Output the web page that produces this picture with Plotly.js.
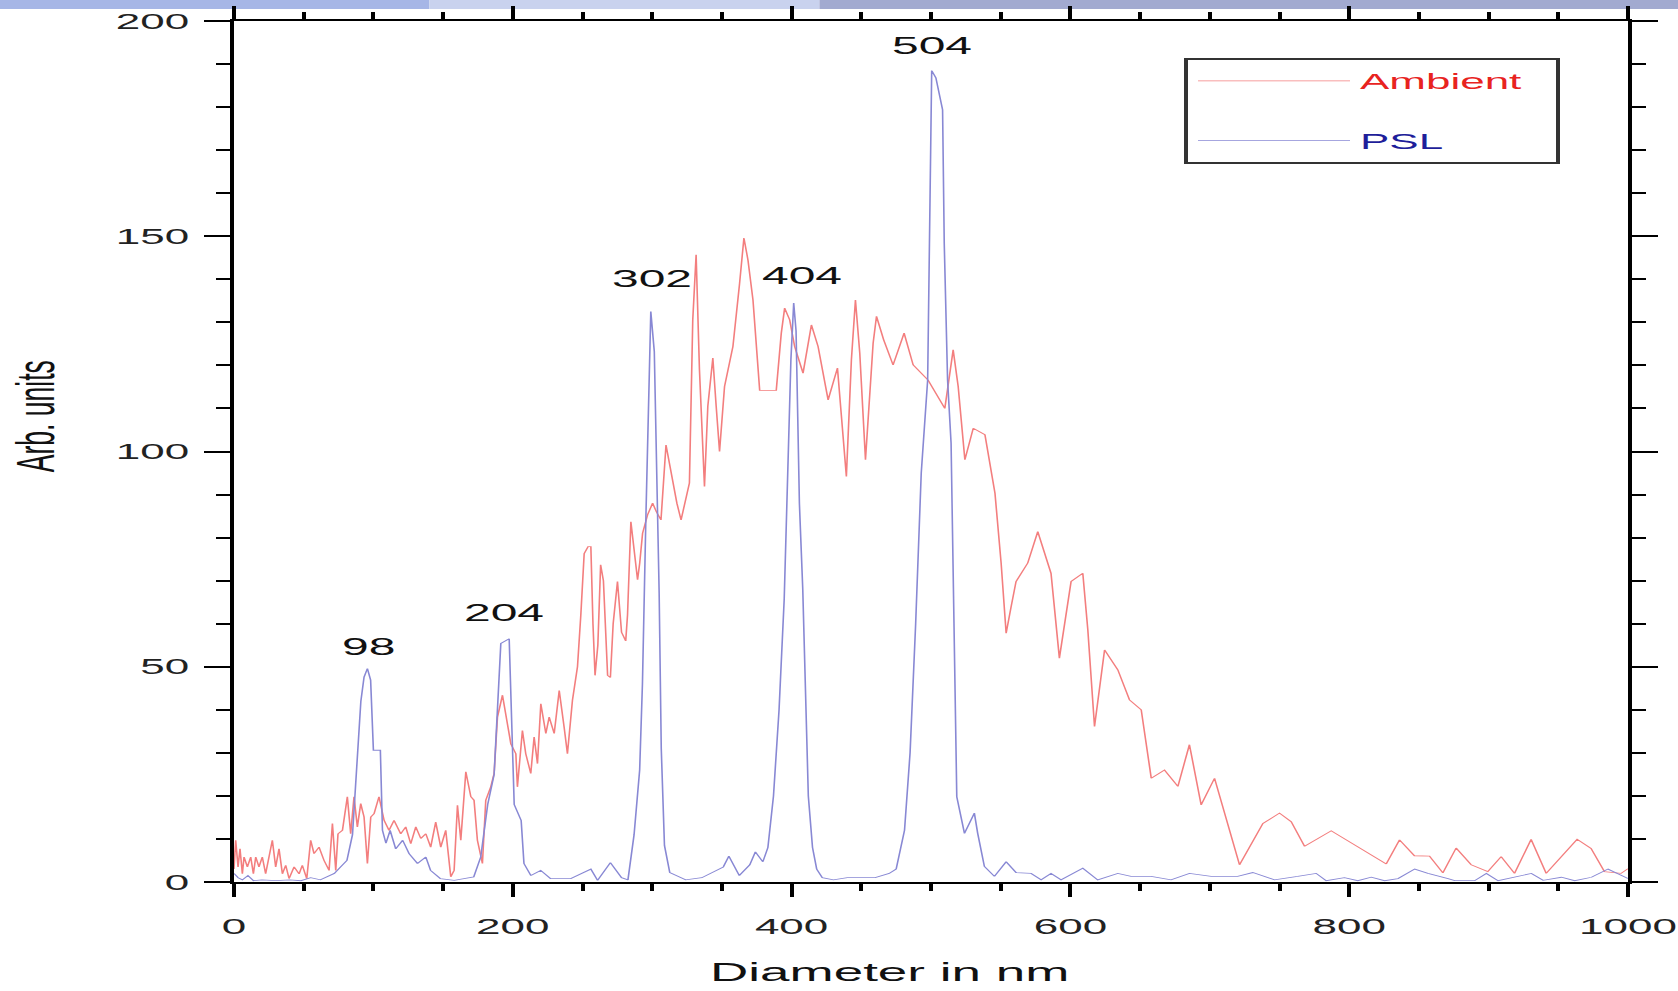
<!DOCTYPE html>
<html>
<head>
<meta charset="utf-8">
<script src="https://cdn.plot.ly/plotly-3.0.1.min.js"></script>
<style>
html, body { margin: 0; padding: 0; background: #ffffff; overflow: hidden; }
#wrap { width: 1678px; height: 991px; overflow: hidden; }
#chart { width: 839px; height: 991px; transform: scaleX(2); transform-origin: 0 0; }
</style>
</head>
<body>
<div id="wrap"><div id="chart"></div></div>
<script>
// ---- data ----
const ambientDiameter = [0,1.2,2.9,4.3,6,7.2,9.6,12,13.9,15.6,17.9,20.3,22.7,25.1,27.5,29.9,32.3,34.7,37.1,39.5,43.1,46.7,49,52.2,55,57.4,61,64.6,68.2,70.6,73,74.6,77.8,81.3,83.7,86.1,88.5,90.9,93.3,95.7,98.1,100.5,104,107.7,111.2,114.8,119.6,123.2,126.8,130.4,134,137.6,141.1,144.7,148.3,151.9,155.5,157.9,160.3,162.7,166.3,169.9,172.2,174.6,178.2,180.6,184.2,186.6,189,192.6,195,198.6,202.2,203.3,206.9,209.3,212.9,215.3,217.7,220.1,223.7,226.1,229.7,233.3,236.8,239.2,242.8,246.4,248.8,251.2,254,256,257.5,259,261,263,265,266.7,268,270,272,275.1,278,281,282.3,284.7,287,289.5,291,293.1,296.7,300.3,303,306.3,309.9,314.7,317.7,320.7,326.7,329.1,331.5,333.9,336.3,337.5,339.9,343.5,345.9,348.3,351.9,357.9,362.7,365.8,368.7,372.3,377.1,389,392.6,395,398.6,402.2,408.2,414.2,419,426.2,432.9,439.3,442.9,445.8,448.9,453,458.5,460.9,466,472.8,480.7,487.2,497.9,509.9,515.9,519.5,524.3,530.3,538.7,545.9,550.3,553.9,557.5,561,569.4,576.6,586.1,592.1,600.5,608.9,612.5,617.3,624.5,634,642.4,650.8,658,667.5,677.1,685.4,693.8,703.4,721.3,738.1,750,758.4,768,787.1,826.6,836.1,846.8,857.6,867.2,876.7,887.5,899.4,909,918.6,930.5,941.3,963.5,973.5,983.1,995,1000];
const ambientValue = [3,9.7,3.5,7.7,1.9,5.8,3.5,5.8,1.9,5.8,3.5,5.8,1.9,5.8,9.7,3.5,7.7,1.9,3.9,0.8,3.5,1.9,3.9,0.8,9.7,6.6,8.1,5,2.7,13.6,2.7,11.2,12,19.8,11.2,19.8,12.8,18.2,15.1,4.3,15.1,15.9,19.8,14.3,12,14.3,11.2,12.8,8.9,12.8,10.1,11.2,8.1,13.9,8.1,12,1.2,2.7,17.8,9.7,25.6,19.8,19,9.7,4.3,19,22.1,25.2,38.3,43.4,38.3,32.1,29.8,22.1,35.2,29.8,25.2,33.7,27.5,41.4,34.5,38.3,34.5,44.5,36,29.8,42.2,50,62,76.3,77.9,77.9,60,48,55,73.7,70,55,48,47.5,60,69.8,58,56,62,83.7,78,70.2,74,81,85.3,88,86,84.1,101.5,91.9,88,84.1,92.7,130.6,145.7,119,99.6,91.9,110.5,121.7,110.5,100,115.1,124.4,139.1,149.6,144.5,135.2,114.2,114.2,127.5,133.3,130.6,124.4,118.2,129.4,124.4,112,119.4,94.2,121.3,135.2,122.9,98.1,125.2,131.4,126,120.1,127.5,120.1,116.6,110,123.6,115.1,98.1,105.4,103.9,90.3,74.1,57.8,64,69.8,74.1,81.4,71.7,52,69.8,71.7,58.6,36.1,53.9,49.3,42.3,40,24.1,26,22.2,31.9,17.9,24.1,4,13.6,16,14,8.3,11.9,4.2,9.8,6.1,6,2.1,7.9,4,2.4,5.9,2,9.9,2,9.9,7.8,2.4,2,3.1];

const pslDiameter = [0,3,6,10,14,20,30,40,48,55,62,68,72,76.5,81,85,86.6,88.5,91,93.3,95.7,98,100,105,106.5,109,112,116,121,125.6,131.6,137.6,141,148,158,165,172,177,182,186.6,189,191.4,197.4,198.6,200,201,206,208,213,220,227,241.6,256,260.8,270,278,282.6,287,291,293,295.5,296.7,299,301.5,303.4,305,306.5,308.8,312.6,324,335.6,351,355,362.5,370,374,379.4,383,387,391,394.7,395.9,398.3,399.5,401.5,403.2,404.4,405.6,408,410,412,415,418,422,430,440,460,470,475,481,485,489,493,497.6,498.8,500.5,503.5,505.9,508.3,509.5,511.9,514.4,516.8,517.5,518.5,524,531.1,533.5,538.3,545.5,553.9,561,571.8,579,586.1,593.3,608.9,619.6,634,643.5,657.9,672.2,685.4,701,720,730.8,746.4,763,776.3,783.5,796.6,806.2,815.8,825.4,835,847,856.5,870.9,875.7,890,898.4,906.8,918.8,930.7,939.1,952.2,961.8,973.8,985.7,995.3,1000];
const pslValue = [2,1,0.5,1.5,0.3,0.5,0.3,0.5,0.3,1,0.5,1.5,2,3.5,5,11,20.5,30.6,42,47.6,49.6,46.9,30.6,30.6,12,9,12,7.7,9.7,6.6,4.3,5.8,2.7,0.8,0.4,0.8,1.2,5.8,18,25,38,55.4,56.5,42,32,18,14.3,4.3,1.5,2.7,0.8,0.8,3,0.4,4.5,1,0.5,11,26,46,85,103,132.5,123.2,95,67,31,8.5,2.2,0.5,1,3.5,6,1.5,4,7,4.7,8,20,40,65.8,81.3,101,121.3,134.5,128,108,88,68,40,20,8,3,1,0.5,1,1,2,3,12,30,60,95,116.6,159.7,188.5,186.8,182.5,179.4,148.4,116.6,101.9,56.3,25.3,19.8,11.3,16,11.3,3.6,1.3,4.7,2.2,2,0.5,2,0.5,3.2,0.5,2,1.3,1.3,0.5,2,1.3,1.3,2.2,0.5,1.3,2,0.3,1,0.3,1.1,0.3,0.8,3,2,0.8,0.3,0.3,2,0.3,1.1,2,0.4,1.1,0.3,1.1,3,1.6,0.8];

const peakLabels = ['98', '204', '302', '404', '504'];
const peakLabelX = [97.4, 193.6, 299.5, 407, 501.4];
const peakLabelY = [54.6, 62.7, 140.1, 140.8, 194.3];

const seriesNames = ['Ambient', 'PSL'];
const xTitle = 'Diameter in nm';
const yTitle = 'Arb. units';

// ---- styling ----
const FONT = 'Liberation Sans, Arial, Helvetica, sans-serif';
const NB = '\u00a0';
const ambientLine = 'rgb(243,126,126)';
const pslLine = 'rgb(136,136,212)';
const ambientText = '#e8231f';
const pslText = '#1e1e9a';

const traces = [
  {
    x: ambientDiameter, y: ambientValue, type: 'scatter', mode: 'lines',
    name: '<span style="color:' + ambientText + '">' + seriesNames[0] + '</span>' + NB.repeat(2),
    legendgroup: 'a',
    line: { color: ambientLine, width: 0.8 }
  },
  {
    x: pslDiameter, y: pslValue, type: 'scatter', mode: 'lines',
    name: '<span style="color:' + pslText + '">' + seriesNames[1] + '</span>',
    legendgroup: 'p',
    line: { color: pslLine, width: 0.8 }
  }
];

const axisCommon = {
  showline: true, linecolor: '#000', linewidth: 2,
  mirror: 'allticks', ticks: 'outside', ticklen: 13, tickwidth: 2, tickcolor: '#000',
  showgrid: false, zeroline: false,
  tickfont: { family: FONT, size: 22, color: '#222' }
};

const annotations = peakLabels.map((t, i) => ({
  x: peakLabelX[i], y: peakLabelY[i], xref: 'x', yref: 'y',
  text: t, showarrow: false,
  font: { family: FONT, size: 24, color: '#111' }
}));
// axis titles, placed where the reference draws them
annotations.push({
  x: 0.4706, y: -0.1045, xref: 'paper', yref: 'paper', xanchor: 'center', yanchor: 'middle',
  text: xTitle, showarrow: false,
  font: { family: FONT, size: 26.5, color: '#111' }
});
annotations.push({
  x: -0.1426, y: 0.5406, xref: 'paper', yref: 'paper', xanchor: 'center', yanchor: 'middle',
  text: yTitle, showarrow: false, textangle: -90,
  font: { family: FONT, size: 26.5, color: '#111' }
});

const layout = {
  width: 839, height: 991,
  margin: { l: 117, r: 25, t: 21, b: 109 },
  paper_bgcolor: '#ffffff', plot_bgcolor: '#ffffff',
  showlegend: true,
  xaxis: Object.assign({}, axisCommon, {
    range: [0, 1000], tick0: 0, dtick: 200,
    minor: { dtick: 50, ticks: 'outside', ticklen: 7, tickwidth: 2, tickcolor: '#000', showgrid: false },
    ticklabelstandoff: 11
  }),
  yaxis: Object.assign({}, axisCommon, {
    range: [0, 200], tick0: 0, dtick: 50,
    minor: { dtick: 10, ticks: 'outside', ticklen: 7, tickwidth: 2, tickcolor: '#000', showgrid: false },
    ticklabelstandoff: 3
  }),
  legend: {
    x: 0.6815, y: 0.957, xanchor: 'left', yanchor: 'top',
    bgcolor: '#ffffff', bordercolor: '#333', borderwidth: 2,
    font: { family: FONT, size: 22 },
    itemwidth: 76, tracegroupgap: 28
  },
  annotations: annotations,
  shapes: [
    { type: 'rect', xref: 'paper', yref: 'paper', x0: -0.2, x1: 0.14, y0: 1.0139, y1: 1.03, fillcolor: '#a6b6e6', line: { width: 0 }, layer: 'below' },
    { type: 'rect', xref: 'paper', yref: 'paper', x0: 0.14, x1: 0.42, y0: 1.0139, y1: 1.03, fillcolor: '#c9d2ee', line: { width: 0 }, layer: 'below' },
    { type: 'rect', xref: 'paper', yref: 'paper', x0: 0.42, x1: 1.1, y0: 1.0139, y1: 1.03, fillcolor: '#a2aad0', line: { width: 0 }, layer: 'below' }
  ]
};

Plotly.newPlot('chart', traces, layout, { displayModeBar: false, staticPlot: true });
</script>
</body>
</html>
